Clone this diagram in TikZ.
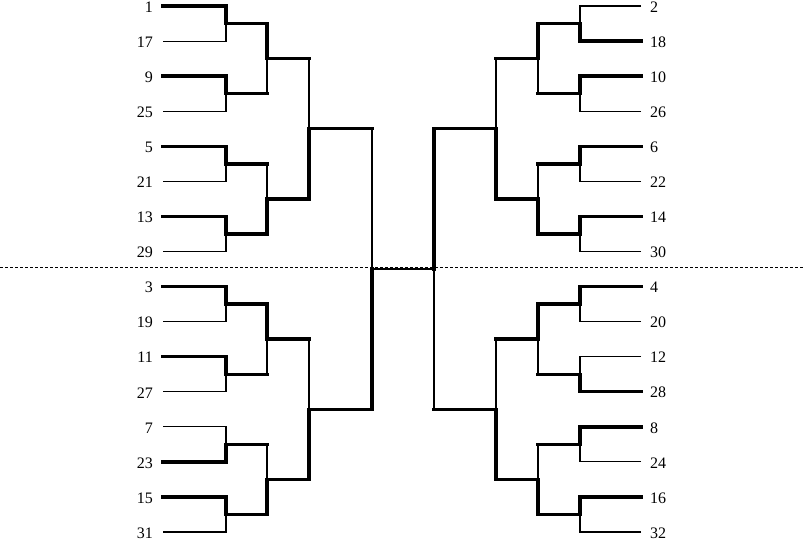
\documentclass[tikz,border=0pt]{standalone}
\usepackage{fontspec}
\setmainfont{Liberation Serif}
\newcommand\leafmatch[3]{%
  \draw[thn] (#2) -| (#3);
  \draw[thk] (#1) -| (#3);}
\newcommand\innermatch[3]{%
  \draw[thk] (#2) -- (#2 -| #3);
  \draw[thn] (#2 -| #3) -- (#3);
  \draw[thk] (#1) -| (#3);}
\begin{document}
\begin{tikzpicture}[x=1pt,y=-1pt,
  thn/.style={line width=1.1pt},
  thk/.style={line width=3.4pt, line cap=rect},
  midl/.style={line width=2pt},
  lab/.style={font=\fontsize{16}{18}\selectfont, inner sep=0pt},
  dashl/.style={line width=0.9pt, dash pattern=on 3pt off 2pt}]
\useasboundingbox (0,0) rectangle (803,542);
% dashed separator
\coordinate (dl) at (0,267);
\coordinate (dr) at (803,267);
\draw[dashl] (dl) -- (dr);
% ---------- left side ----------
\foreach \s [count=\i from 0] in {1,17,9,25,5,21,13,29,3,19,11,27,7,23,15,31} {
  \node[lab, anchor=east] (Lt\i) at (153, {6+35.0667*\i+1}) {\s};
  \coordinate (La\i) at (163, {6+35.0667*\i});
}
\foreach \j in {0,...,7} \coordinate (L1m\j) at (226, {23.533+70.1333*\j});
\foreach \j in {0,...,3} \coordinate (L2m\j) at (267, {58.6+140.2667*\j});
\foreach \j in {0,1} \coordinate (L3m\j) at (309, {128.733+280.533*\j});
\coordinate (L4m) at (372, 269);
% ---------- right side ----------
\foreach \s [count=\i from 0] in {2,18,10,26,6,22,14,30,4,20,12,28,8,24,16,32} {
  \node[lab, anchor=west] (Rt\i) at (650, {6+35.0667*\i+1}) {\s};
  \coordinate (Ra\i) at (641, {6+35.0667*\i});
}
\foreach \j in {0,...,7} \coordinate (R1m\j) at (580, {23.533+70.1333*\j});
\foreach \j in {0,...,3} \coordinate (R2m\j) at (538, {58.6+140.2667*\j});
\foreach \j in {0,1} \coordinate (R3m\j) at (496, {128.733+280.533*\j});
\coordinate (R4m) at (434, 269);
% ---------- left matches ----------
\foreach \j/\w in {0/0,1/0,2/0,3/0,4/0,5/0,6/1,7/0} {
  \pgfmathtruncatemacro\myA{2*\j}
  \pgfmathtruncatemacro\myB{2*\j+1}
  \ifnum\w=0 \leafmatch{La\myA}{La\myB}{L1m\j}\else\leafmatch{La\myB}{La\myA}{L1m\j}\fi
}
\foreach \j/\w in {0/0,1/1,2/0,3/1} {
  \pgfmathtruncatemacro\myA{2*\j}
  \pgfmathtruncatemacro\myB{2*\j+1}
  \ifnum\w=0 \innermatch{L1m\myA}{L1m\myB}{L2m\j}\else\innermatch{L1m\myB}{L1m\myA}{L2m\j}\fi
}
\foreach \j/\w in {0/1,1/1} {
  \pgfmathtruncatemacro\myA{2*\j}
  \pgfmathtruncatemacro\myB{2*\j+1}
  \ifnum\w=0 \innermatch{L2m\myA}{L2m\myB}{L3m\j}\else\innermatch{L2m\myB}{L2m\myA}{L3m\j}\fi
}
\innermatch{L3m1}{L3m0}{L4m}
% ---------- right matches ----------
\foreach \j/\w in {0/1,1/0,2/0,3/0,4/0,5/1,6/0,7/0} {
  \pgfmathtruncatemacro\myA{2*\j}
  \pgfmathtruncatemacro\myB{2*\j+1}
  \ifnum\w=0 \leafmatch{Ra\myA}{Ra\myB}{R1m\j}\else\leafmatch{Ra\myB}{Ra\myA}{R1m\j}\fi
}
\foreach \j/\w in {0/0,1/1,2/0,3/1} {
  \pgfmathtruncatemacro\myA{2*\j}
  \pgfmathtruncatemacro\myB{2*\j+1}
  \ifnum\w=0 \innermatch{R1m\myA}{R1m\myB}{R2m\j}\else\innermatch{R1m\myB}{R1m\myA}{R2m\j}\fi
}
\foreach \j/\w in {0/1,1/1} {
  \pgfmathtruncatemacro\myA{2*\j}
  \pgfmathtruncatemacro\myB{2*\j+1}
  \ifnum\w=0 \innermatch{R2m\myA}{R2m\myB}{R3m\j}\else\innermatch{R2m\myB}{R2m\myA}{R3m\j}\fi
}
\innermatch{R3m0}{R3m1}{R4m}
% ---------- final ----------
\draw[midl] (L4m) -- (R4m);
\end{tikzpicture}
\end{document}
